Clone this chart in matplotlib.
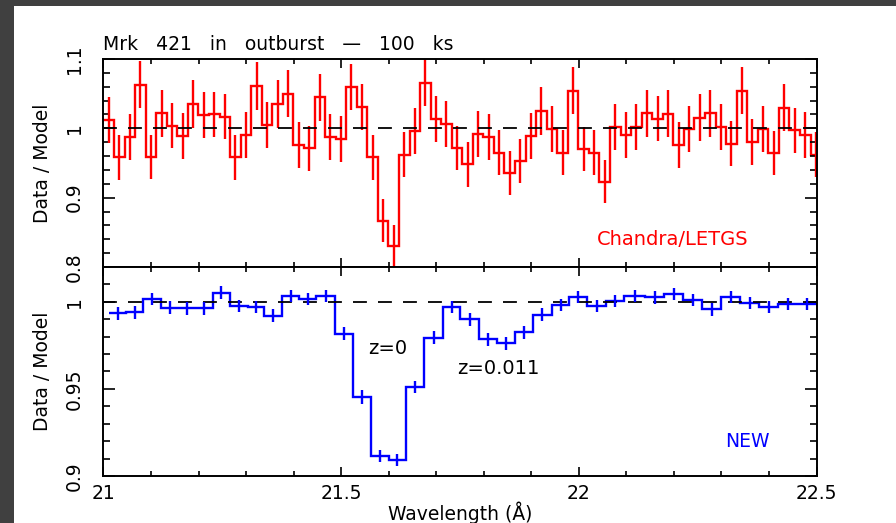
import numpy as np
import matplotlib
matplotlib.use("Agg")
import matplotlib.pyplot as plt
from matplotlib.ticker import MultipleLocator, FuncFormatter
from matplotlib.patches import Rectangle

# Chandra/LETGS data/model ratio, regular bins starting at 21.0 A
red_start = 21.0
red_width = 0.0222
red_ratio = [1.012, 0.958, 0.987, 1.063, 0.959, 1.022, 1.004, 0.989, 1.035, 1.019,
             1.020, 1.017, 0.958, 0.990, 1.061, 1.005, 1.035, 1.050, 0.976, 0.971,
             1.045, 0.988, 0.985, 1.060, 1.031, 0.958, 0.867, 0.830, 0.962, 0.996,
             1.066, 1.013, 1.006, 0.972, 0.948, 0.992, 0.988, 0.965, 0.936, 0.953,
             0.989, 1.025, 0.999, 0.965, 1.054, 0.970, 0.965, 0.923, 1.002, 0.990,
             1.002, 1.022, 1.014, 1.021, 0.976, 0.999, 1.015, 1.022, 1.002, 0.978,
             1.054, 0.980, 0.999, 0.964, 1.030, 0.997, 0.990, 0.962]
red_err = [0.033, 0.032, 0.033, 0.034, 0.032, 0.034, 0.033, 0.033, 0.034, 0.033,
           0.033, 0.033, 0.032, 0.033, 0.034, 0.033, 0.034, 0.034, 0.033, 0.033,
           0.034, 0.033, 0.033, 0.033, 0.033, 0.032, 0.031, 0.031, 0.032, 0.033,
           0.034, 0.033, 0.033, 0.032, 0.032, 0.033, 0.033, 0.032, 0.032, 0.032,
           0.033, 0.034, 0.033, 0.032, 0.034, 0.032, 0.032, 0.031, 0.033, 0.033,
           0.033, 0.034, 0.033, 0.034, 0.033, 0.033, 0.034, 0.034, 0.033, 0.033,
           0.034, 0.033, 0.033, 0.032, 0.034, 0.033, 0.033, 0.032]

# NEW simulated ratio (bin edges in A)
blue_edges = [21.012, 21.047, 21.084, 21.121, 21.157, 21.194, 21.230, 21.266, 21.303, 21.338,
              21.375, 21.412, 21.448, 21.487, 21.524, 21.563, 21.600, 21.637, 21.675, 21.714,
              21.751, 21.790, 21.827, 21.865, 21.903, 21.943, 21.980, 22.018, 22.058, 22.096,
              22.140, 22.179, 22.220, 22.260, 22.300, 22.340, 22.379, 22.419, 22.460, 22.500]
blue_ratio = [0.9933, 0.9939, 1.0015, 0.9967, 0.9962, 0.9962, 1.0052, 0.9977, 0.9971, 0.9920,
              1.0034, 1.0015, 1.0033, 0.9818, 0.9454, 0.9113, 0.9094, 0.9511, 0.9795, 0.9971,
              0.9900, 0.9785, 0.9761, 0.9824, 0.9927, 0.9981, 1.0029, 0.9977, 1.0004, 1.0033,
              1.0025, 1.0044, 1.0010, 0.9956, 1.0029, 0.9994, 0.9971, 0.9987, 0.9987]
blue_err = [0.0035, 0.0035, 0.0036, 0.0036, 0.0036, 0.0036, 0.0038, 0.0036, 0.0036, 0.0036,
            0.0036, 0.0036, 0.0036, 0.0036, 0.0038, 0.0035, 0.0035, 0.0037, 0.0036, 0.0036,
            0.0036, 0.0036, 0.0036, 0.0036, 0.0036, 0.0036, 0.0036, 0.0036, 0.0036, 0.0036,
            0.0036, 0.0036, 0.0036, 0.0036, 0.0036, 0.0036, 0.0036, 0.0036, 0.0036]

xticks = [21, 21.5, 22, 22.5]

plt.rcParams['font.family'] = 'DejaVu Sans'
plt.rcParams['lines.scale_dashes'] = False

fig = plt.figure(figsize=(8.96, 5.23), dpi=100)
fig.patch.set_facecolor('#404040')
fig.add_artist(Rectangle((14/896, 0), 1, 517/523, transform=fig.transFigure,
                         facecolor='white', edgecolor='none', zorder=0))

ax1 = fig.add_axes([0.1155, 0.4895, 0.7958, 0.3977])
ax2 = fig.add_axes([0.1155, 0.0899, 0.7958, 0.3996])

fmt = FuncFormatter(lambda v, p: '%g' % round(v, 4))

red_edges = red_start + red_width * np.arange(len(red_ratio) + 1)
red_centers = red_edges[:-1] + red_width / 2
ax1.stairs(red_ratio, red_edges, baseline=None, color='red', lw=1.7)
ax1.errorbar(red_centers, red_ratio, yerr=red_err, fmt='none', ecolor='red',
             elinewidth=1.7, capsize=0, clip_on=False)
ax1.axhline(1, color='black', lw=1.3, dashes=(10, 8), zorder=5)
ax1.set_ylim(0.8, 1.1)
ax1.yaxis.set_major_locator(MultipleLocator(0.1))
ax1.yaxis.set_minor_locator(MultipleLocator(0.02))
ax1.text(22.038, 0.839, 'Chandra/LETGS', color='red', fontsize=14, va='center')
ax1.text(0, 1 + 9/208, 'Mrk   421   in   outburst   \u2014   100   ks', transform=ax1.transAxes,
         fontsize=13.5, va='baseline', ha='left')

bedges = np.array(blue_edges)
bcenters = (bedges[:-1] + bedges[1:]) / 2
ax2.stairs(blue_ratio, bedges, baseline=None, color='blue', lw=1.7)
ax2.errorbar(bcenters, blue_ratio, yerr=blue_err, fmt='none', ecolor='blue',
             elinewidth=1.7, capsize=0)
ax2.axhline(1, color='black', lw=1.3, dashes=(10, 8), zorder=1)
ax2.set_ylim(0.9, 1.02)
ax2.yaxis.set_major_locator(MultipleLocator(0.05))
ax2.yaxis.set_minor_locator(MultipleLocator(0.01))
ax2.text(21.556, 0.9732, 'z=0', fontsize=14, va='center')
ax2.text(21.743, 0.9617, 'z=0.011', fontsize=14, va='center')
ax2.text(22.307, 0.9197, 'NEW', color='blue', fontsize=13.5, va='center')

for ax in (ax1, ax2):
    ax.set_xlim(21, 22.5)
    ax.set_xticks(xticks)
    ax.xaxis.set_minor_locator(MultipleLocator(0.1))
    ax.xaxis.set_major_formatter(fmt)
    ax.yaxis.set_major_formatter(fmt)
    for s in ax.spines.values():
        s.set_linewidth(1.4)
    ax.tick_params(which='both', direction='in', top=True, right=True, width=1.2,
                   labelsize=13.5)
    ax.tick_params(axis='x', which='major', length=6.5, pad=6)
    ax.tick_params(axis='x', which='minor', length=3.6)
    ax.tick_params(axis='y', which='major', length=8.6, pad=14, labelrotation=90)
    ax.tick_params(axis='y', which='minor', length=4.7)
    for lab in ax.get_yticklabels():
        lab.set_va('center')

ax1.tick_params(labelbottom=False)

fig.text(42/896, 1 - 163/523, 'Data / Model', rotation=90, ha='center', va='center', fontsize=13.5)
fig.text(42/896, 1 - 371/523, 'Data / Model', rotation=90, ha='center', va='center', fontsize=13.5)
fig.text(460/896, 1 - 513/523, 'Wavelength (\u00c5)', ha='center', va='center', fontsize=13.5)

fig.savefig('out.png', dpi=100, facecolor=fig.get_facecolor())
